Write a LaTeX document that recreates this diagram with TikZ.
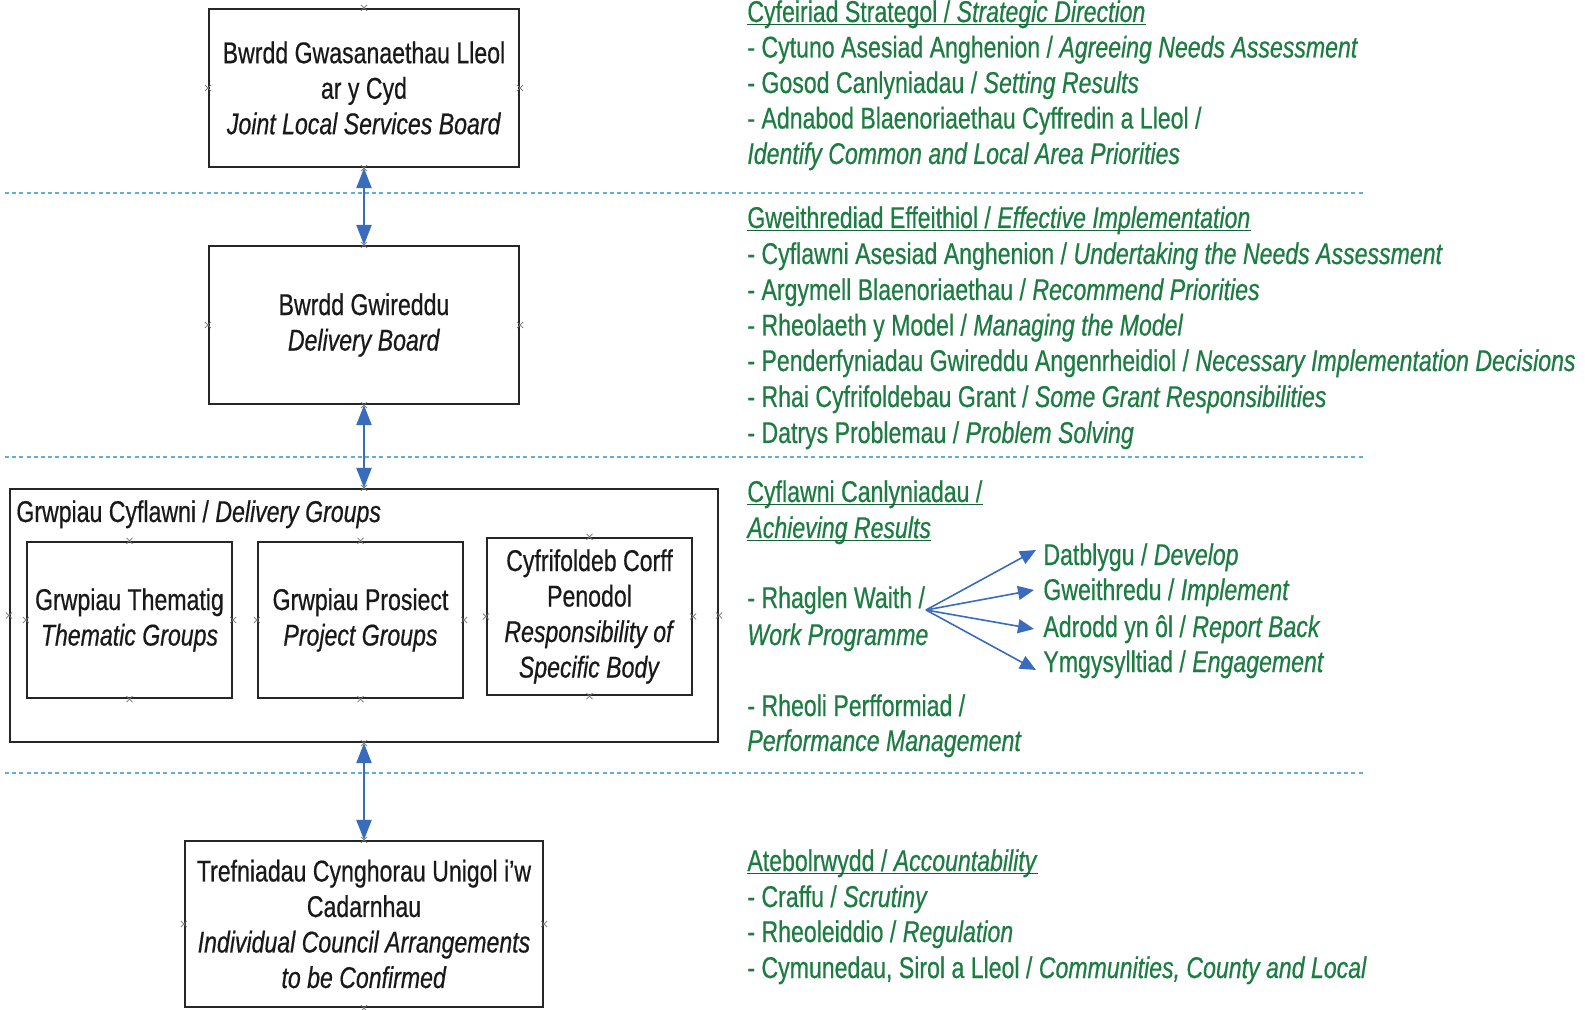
\documentclass[tikz,border=0pt]{standalone}
\usepackage{fontspec}
\setmainfont{Liberation Sans}[FakeStretch=0.77,FakeBold=0.5]
\usetikzlibrary{arrows.meta}
\definecolor{tgreen}{RGB}{28,124,66}
\definecolor{ablue}{RGB}{58,108,190}
\definecolor{sepblue}{RGB}{95,175,215}
\begin{document}
\begin{tikzpicture}[x=0.5pt,y=-0.5pt,
  font=\fontsize{15}{17.75}\selectfont,
  boxnode/.style={draw=black!85,line width=1.1pt,inner sep=0pt,align=center,text=black!90},
  rt/.style={anchor=base west,inner sep=0pt,text=tgreen},
  ul/.style={draw=tgreen!80!black,line width=0.8pt},
  sepline/.style={draw=sepblue,line width=0.9pt,dash pattern=on 2pt off 1.6pt},
  link/.style={draw=ablue,line width=1.1pt,{Triangle[length=10pt,width=7.5pt]}-{Triangle[length=10pt,width=7.5pt]}},
  fan/.style={draw=ablue,line width=0.8pt,-{Triangle[length=8pt,width=7pt]}},
  xm/.style={draw=black!55,line width=0.4pt}]
\useasboundingbox (0,0) rectangle (1585,1010);
\fill[white] (0,0) rectangle (1585,1010);
\newcommand\xmk[1]{\draw[xm] ([shift={(-1.5pt,-1.5pt)}]#1) -- ([shift={(1.5pt,1.5pt)}]#1) ([shift={(-1.5pt,1.5pt)}]#1) -- ([shift={(1.5pt,-1.5pt)}]#1);}
\newcommand\xmks[1]{\xmk{#1.north}\xmk{#1.south}\xmk{#1.east}\xmk{#1.west}}

% separators
\draw[sepline] (5,193) -- (1365,193);
\draw[sepline] (5,457) -- (1365,457);
\draw[sepline] (5,773) -- (1365,773);

% boxes
\node[boxnode,minimum width=155pt,minimum height=79pt] (b1) at (364,88)
  {Bwrdd Gwasanaethau Lleol\\ar y Cyd\\\textit{Joint Local Services Board}};
\node[boxnode,minimum width=155pt,minimum height=79pt] (b2) at (364,325)
  {Bwrdd Gwireddu\\\textit{Delivery Board}};
\node[boxnode,minimum width=354pt,minimum height=126.5pt] (b3) at (364,615.5) {};
\node[anchor=base west,inner sep=0pt,text=black!90] (b3t) at (16,522)
  {Grwpiau Cyflawni / \textit{Delivery Groups}};
\node[boxnode,minimum width=102.5pt,minimum height=78pt] (ga) at (129.5,620)
  {Grwpiau Thematig\\\textit{Thematic Groups}};
\node[boxnode,minimum width=102.5pt,minimum height=78pt] (gb) at (360.5,620)
  {Grwpiau Prosiect\\\textit{Project Groups}};
\node[boxnode,minimum width=102.5pt,minimum height=78.5pt] (gc) at (589.5,616.5)
  {Cyfrifoldeb Corff\\Penodol\\\textit{Responsibility of}\\\textit{Specific Body}};
\node[boxnode,minimum width=179pt,minimum height=83pt] (b4) at (364,924)
  {Trefniadau Cynghorau Unigol i'w\\Cadarnhau\\\textit{Individual Council Arrangements}\\\textit{to be Confirmed}};

\xmks{b1}\xmks{b2}\xmks{b3}\xmks{ga}\xmks{gb}\xmks{gc}\xmks{b4}

% links
\draw[link] (b1.south) -- (b2.north);
\draw[link] (b2.south) -- (b3.north);
\draw[link] (b3.south) -- (b4.north);

% right column: section 1
\node[rt] (h1) at (747,22) {Cyfeiriad Strategol / \textit{Strategic Direction}};
\draw[ul] ([yshift=-1.2pt]h1.base west) -- ([yshift=-1.2pt]h1.base east);
\node[rt] (s1a) at (747,57.5) {- Cytuno Asesiad Anghenion / \textit{Agreeing Needs Assessment}};
\node[rt] (s1b) at (747,93) {- Gosod Canlyniadau / \textit{Setting Results}};
\node[rt] (s1c) at (747,128.5) {- Adnabod Blaenoriaethau Cyffredin a Lleol /};
\node[rt] (s1d) at (747,164) {\textit{Identify Common and Local Area Priorities}};

% section 2
\node[rt] (h2) at (747,228) {Gweithrediad Effeithiol / \textit{Effective Implementation}};
\draw[ul] ([yshift=-1.2pt]h2.base west) -- ([yshift=-1.2pt]h2.base east);
\node[rt] (s2a) at (747,264) {- Cyflawni Asesiad Anghenion / \textit{Undertaking the Needs Assessment}};
\node[rt] (s2b) at (747,300) {- Argymell Blaenoriaethau / \textit{Recommend Priorities}};
\node[rt] (s2c) at (747,335.5) {- Rheolaeth y Model / \textit{Managing the Model}};
\node[rt] (s2d) at (747,371) {- Penderfyniadau Gwireddu Angenrheidiol / \textit{Necessary Implementation Decisions}};
\node[rt] (s2e) at (747,407) {- Rhai Cyfrifoldebau Grant / \textit{Some Grant Responsibilities}};
\node[rt] (s2f) at (747,443) {- Datrys Problemau / \textit{Problem Solving}};

% section 3
\node[rt] (h3a) at (747,502) {Cyflawni Canlyniadau /};
\draw[ul] ([yshift=-1.2pt]h3a.base west) -- ([yshift=-1.2pt]h3a.base east);
\node[rt] (h3b) at (747,538) {\textit{Achieving Results}};
\draw[ul] ([yshift=-1.2pt]h3b.base west) -- ([yshift=-1.2pt]h3b.base east);
\node[rt] (wp1) at (747,608) {- Rhaglen Waith /};
\node[rt] (wp2) at (747,645) {\textit{Work Programme}};
\node[rt] (pm1) at (747,716) {- Rheoli Perfformiad /};
\node[rt] (pm2) at (747,751) {\textit{Performance Management}};

\node[rt] (d1) at (1043,565) {Datblygu / \textit{Develop}};
\node[rt] (d2) at (1043,600) {Gweithredu / \textit{Implement}};
\node[rt] (d3) at (1043,637) {Adrodd yn ôl / \textit{Report Back}};
\node[rt] (d4) at (1043,672) {Ymgysylltiad / \textit{Engagement}};

\coordinate (wp) at (926,610);
\coordinate (t1) at (1036,550);
\coordinate (t2) at (1034,590);
\coordinate (t3) at (1034,629);
\coordinate (t4) at (1036,670);
\draw[fan] (wp) -- (t1);
\draw[fan] (wp) -- (t2);
\draw[fan] (wp) -- (t3);
\draw[fan] (wp) -- (t4);

% section 4
\node[rt] (h4) at (747,871) {Atebolrwydd / \textit{Accountability}};
\draw[ul] ([yshift=-1.2pt]h4.base west) -- ([yshift=-1.2pt]h4.base east);
\node[rt] (s4a) at (747,907) {- Craffu / \textit{Scrutiny}};
\node[rt] (s4b) at (747,942) {- Rheoleiddio / \textit{Regulation}};
\node[rt] (s4c) at (747,978) {- Cymunedau, Sirol a Lleol / \textit{Communities, County and Local}};
\end{tikzpicture}
\end{document}
